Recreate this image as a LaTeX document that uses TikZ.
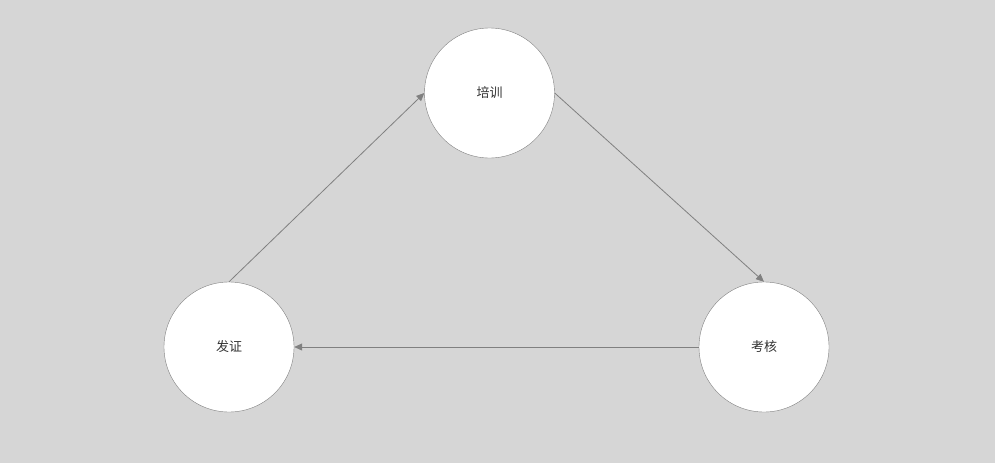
\documentclass[tikz,border=0pt]{standalone}
\usepackage{fontspec}
\newfontfamily\cjk{Noto Sans CJK SC}
\usetikzlibrary{arrows.meta}
\definecolor{bg}{HTML}{D6D6D6}
\definecolor{rand}{HTML}{808080}
\definecolor{tekst}{HTML}{333333}
\begin{document}
\begin{tikzpicture}[x = 1pt, y = -1pt,
	stap/.style = {circle, draw = rand, fill = white, minimum size = 130pt, inner sep = 0pt, text = tekst, font = \cjk\fontsize{13pt}{15pt}\selectfont},
	pijl/.style = {draw = rand, line width = 0.8pt, -{Triangle[length = 8pt, width = 7pt]}}]
	%	achtergrond
	\fill[bg] (0, 0) rectangle (995, 463);
	\useasboundingbox (0, 0) rectangle (995, 463);
	
	%	cirkels
	\node[stap] (peixun) at (489.5, 93) {培训};
	\node[stap] (kaohe) at (764, 347) {考核};
	\node[stap] (fazheng) at (229, 347) {发证};
	
	%	pijlen
	\draw[pijl] (fazheng.north) -- (peixun.west);
	\draw[pijl] (peixun.east) -- (kaohe.north);
	\draw[pijl] (kaohe.west) -- (fazheng.east);
\end{tikzpicture}
\end{document}
